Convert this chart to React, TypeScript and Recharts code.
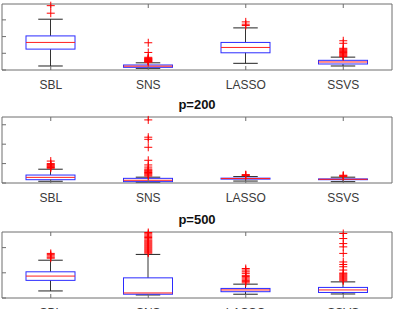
import { ComposedChart, Bar, Scatter, XAxis, YAxis } from 'recharts';

const methods = ['SBL', 'SNS', 'LASSO', 'SSVS'];

// p=100
const lo100 = [0.24, 0.1, 0.4, 0.24];
const q1_100 = [1.25, 0.16, 1.03, 0.36];
const med100 = [1.65, 0.23, 1.35, 0.48];
const q3_100 = [2.04, 0.3, 1.65, 0.58];
const hi100 = [3.04, 0.43, 2.52, 0.77];
const out100 = [
  [3.4, 3.85],
  [0.47, 0.5, 0.53, 0.56, 0.59, 0.62, 0.65, 0.68, 0.71, 0.76, 1.05, 1.63],
  [2.66, 2.74, 2.88],
  [0.8, 0.85, 0.9, 0.95, 1.0, 1.05, 1.1, 1.15, 1.2, 1.25, 1.3, 1.6, 1.75],
];

// p=200
const lo200 = [0.09, 0.04, 0.1, 0.07];
const q1_200 = [0.17, 0.07, 0.2, 0.17];
const med200 = [0.29, 0.14, 0.23, 0.19];
const q3_200 = [0.41, 0.24, 0.25, 0.21];
const hi200 = [0.71, 0.3, 0.33, 0.3];
const out200 = [
  [0.76, 0.8, 0.84, 0.88, 0.92, 0.96, 1.0, 1.13],
  [0.36, 0.41, 0.46, 0.5, 0.54, 0.58, 0.63, 0.67, 0.72, 0.82, 0.93, 1.17, 1.84, 2.25, 2.36, 3.25],
  [0.38, 0.41, 0.43],
  [0.34, 0.37, 0.4],
];

// p=500
const lo500 = [0.28, 0.12, 0.15, 0.16];
const q1_500 = [0.7, 0.15, 0.25, 0.22];
const med500 = [0.87, 0.2, 0.32, 0.32];
const q3_500 = [1.04, 0.8, 0.38, 0.42];
const hi500 = [1.5, 1.73, 0.55, 0.64];
const out500 = [
  [1.58, 1.62, 1.67, 1.72, 1.77],
  [1.78, 1.82, 1.86, 1.9, 1.94, 1.98, 2.02, 2.06, 2.1, 2.14, 2.18, 2.22, 2.26, 2.3, 2.35, 2.4, 2.45, 2.5, 2.55, 2.6],
  [0.6, 0.65, 0.7, 0.75, 0.8, 0.85, 0.9, 0.98, 1.04, 1.11, 1.17],
  [0.68, 0.72, 0.76, 0.8, 0.84, 0.88, 0.92, 0.96, 0.99, 1.11, 1.24, 1.33, 1.43, 1.77, 2.03, 2.16, 2.36, 2.56],
];

const yTicks = [0, 1, 2, 3, 4];

function makeRows(lo: number[], q1: number[], med: number[], q3: number[], hi: number[]) {
  return methods.map((name, i) => ({ name, lo: lo[i], q1: q1[i], med: med[i], q3: q3[i], hi: hi[i] }));
}

function makeOutliers(out: number[][]) {
  return methods.flatMap((name, i) => out[i].map((v) => ({ name, v })));
}

const panels = [
  { title: 'p=100', top: 4, yMax: 3.95, rows: makeRows(lo100, q1_100, med100, q3_100, hi100), outliers: makeOutliers(out100) },
  { title: 'p=200', top: 117, yMax: 3.4, rows: makeRows(lo200, q1_200, med200, q3_200, hi200), outliers: makeOutliers(out200) },
  { title: 'p=500', top: 232, yMax: 2.62, rows: makeRows(lo500, q1_500, med500, q3_500, hi500), outliers: makeOutliers(out500) },
];

const PLOT_H = 66;
const AXIS = '#6e6e6e';

// box + whiskers, drawn inside the [lo, hi] range bar
function BoxShape(props: any) {
  const { x, y, width, height, payload } = props;
  const { lo, q1, med, q3, hi } = payload;
  const at = (v: number) => y + (height * (hi - v)) / (hi - lo);
  const cx = x + width / 2;
  const cap = width / 4;
  return (
    <g>
      <line x1={cx} x2={cx} y1={at(hi)} y2={at(q3)} stroke="#333" />
      <line x1={cx} x2={cx} y1={at(q1)} y2={at(lo)} stroke="#333" />
      <line x1={cx - cap} x2={cx + cap} y1={at(hi)} y2={at(hi)} stroke="#222" />
      <line x1={cx - cap} x2={cx + cap} y1={at(lo)} y2={at(lo)} stroke="#222" />
      <rect x={x} y={at(q3)} width={width} height={at(q1) - at(q3)} fill="none" stroke="#2b2bff" />
      <line x1={x} x2={x + width} y1={at(med)} y2={at(med)} stroke="#ff2020" />
    </g>
  );
}

function Plus(props: any) {
  const { cx, cy } = props;
  return <path d={`M${cx - 4},${cy}H${cx + 4}M${cx},${cy - 4}V${cy + 4}`} stroke="#ff0000" strokeWidth={1} fill="none" />;
}

function Panel({ title, top, yMax, rows, outliers }: any) {
  const ticks = yTicks.filter((t) => t <= yMax);
  return (
    <div style={{ position: 'absolute', left: 0, top: top - 20 }}>
      <ComposedChart width={394} height={20 + PLOT_H + 25} data={rows} margin={{ top: 19, right: 1, bottom: 0, left: 1 }}>
        <XAxis
          dataKey="name"
          type="category"
          allowDuplicatedCategory={false}
          interval={0}
          height={25}
          tickSize={-4}
          tickMargin={14}
          stroke={AXIS}
          tick={{ fill: '#3a3a3a', fontSize: 12 }}
        />
        <XAxis
          xAxisId="t"
          orientation="top"
          dataKey="name"
          allowDuplicatedCategory={false}
          interval={0}
          height={1}
          tickSize={-4}
          tickFormatter={() => ''}
          stroke={AXIS}
          label={{ value: title, position: 'top', offset: 7, fontSize: 13, fontWeight: 'bold', fill: '#111' }}
        />
        <YAxis type="number" domain={[0, yMax]} ticks={ticks} width={1} tickSize={-4} tickFormatter={() => ''} stroke={AXIS} />
        <YAxis
          yAxisId="r"
          orientation="right"
          type="number"
          domain={[0, yMax]}
          ticks={ticks}
          width={1}
          tickSize={-4}
          tickFormatter={() => ''}
          stroke={AXIS}
        />
        <Bar dataKey={(d: any) => [d.lo, d.hi]} barSize={49} shape={BoxShape} isAnimationActive={false} />
        <Scatter data={outliers} dataKey="v" shape={Plus} isAnimationActive={false} />
      </ComposedChart>
    </div>
  );
}

export default function App() {
  return (
    <div
      style={{
        position: 'absolute',
        left: 0,
        top: 0,
        width: 394,
        height: 309,
        overflow: 'hidden',
        background: '#fff',
        fontFamily: '"Liberation Sans", Arial, sans-serif',
      }}
    >
      {panels.map((p) => (
        <Panel key={p.title} {...p} />
      ))}
    </div>
  );
}
